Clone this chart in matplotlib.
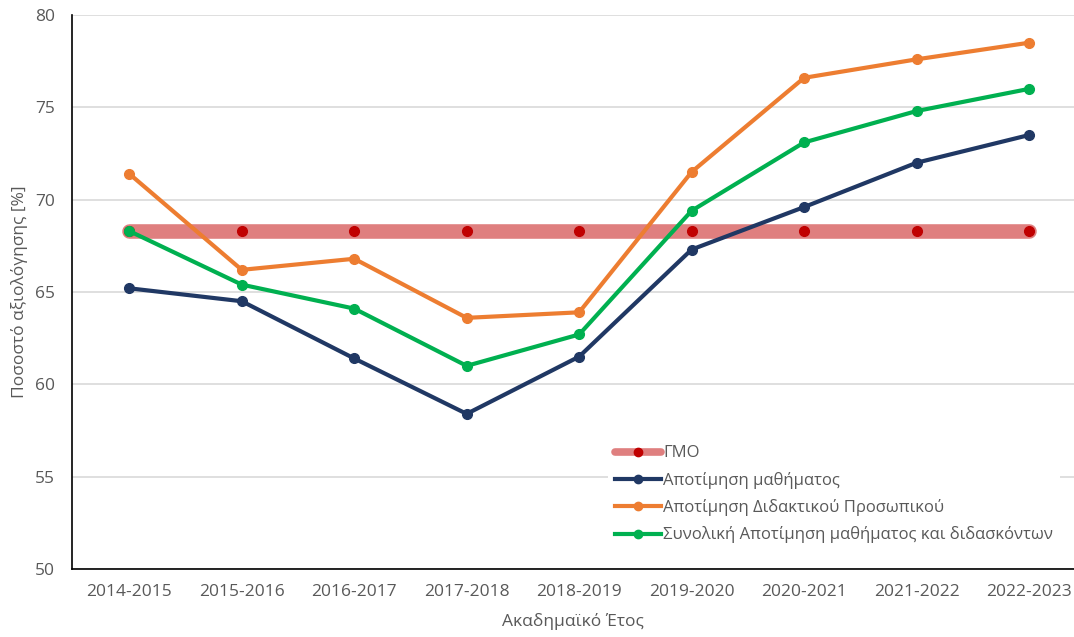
import matplotlib
matplotlib.use("Agg")
import matplotlib.pyplot as plt
from matplotlib.lines import Line2D

years = ["2014-2015", "2015-2016", "2016-2017", "2017-2018", "2018-2019",
         "2019-2020", "2020-2021", "2021-2022", "2022-2023"]
gmo = [68.3] * 9
course = [65.2, 64.5, 61.4, 58.4, 61.5, 67.3, 69.6, 72.0, 73.5]
staff = [71.4, 66.2, 66.8, 63.6, 63.9, 71.5, 76.6, 77.6, 78.5]
overall = [68.3, 65.4, 64.1, 61.0, 62.7, 69.4, 73.1, 74.8, 76.0]

plt.rcParams['font.family'] = ['Open Sans', 'DejaVu Sans']
text_color = "#595959"

fig = plt.figure(figsize=(10.74, 6.37), dpi=100)
ax = fig.add_axes([0.067, 0.1068, 0.933, 0.8696])

x = list(range(len(years)))

ax.plot(x, gmo, color="#df7f7f", lw=10.5, solid_capstyle="round", zorder=2)
ax.plot(x, gmo, ls="none", marker="o", color="#c00000", ms=7, zorder=3)
ax.plot(x, course, color="#203864", lw=3, marker="o", ms=7, zorder=4)
ax.plot(x, staff, color="#ed7d31", lw=3, marker="o", ms=7, zorder=4)
ax.plot(x, overall, color="#00b050", lw=3, marker="o", ms=7, zorder=5)

ax.set_ylim(50, 80)
ax.set_xlim(-0.51, 8.4)
ax.set_yticks([50, 55, 60, 65, 70, 75, 80])
ax.set_xticks(x)
ax.set_xticklabels(years)
ax.tick_params(length=0, labelsize=12.5, colors=text_color)
ax.tick_params(axis="x", pad=11)
ax.tick_params(axis="y", pad=12)
ax.grid(axis="y", color="#d9d9d9", lw=1.2)
ax.set_axisbelow(True)
for s in ["top", "right"]:
    ax.spines[s].set_visible(False)
for s in ["left", "bottom"]:
    ax.spines[s].set_color("#000000")
    ax.spines[s].set_linewidth(1.2)

ax.set_xlabel("Ακαδημαϊκό Έτος", fontsize=12.5, color=text_color, labelpad=9)
ax.set_ylabel("Ποσοστό αξιολόγησης [%]", fontsize=12.5, color=text_color, labelpad=5)

handles = [
    (Line2D([], [], color="#df7f7f", lw=5.5, solid_capstyle="round"),
     Line2D([], [], ls="none", marker="o", color="#c00000", ms=6)),
    Line2D([], [], color="#203864", lw=3, marker="o", ms=6),
    Line2D([], [], color="#ed7d31", lw=3, marker="o", ms=6),
    Line2D([], [], color="#00b050", lw=3, marker="o", ms=6),
]
labels = ["ΓΜΟ", "Αποτίμηση μαθήματος", "Αποτίμηση Διδακτικού Προσωπικού",
          "Συνολική Αποτίμηση μαθήματος και διδασκόντων"]
leg = ax.legend(handles, labels, loc="upper left", bbox_to_anchor=(0.535, 0.235),
                frameon=True, facecolor="white", edgecolor="none", framealpha=1,
                fontsize=12, handlelength=2.8, handletextpad=0.1, labelspacing=0.62,
                borderaxespad=0)
for t in leg.get_texts():
    t.set_color(text_color)

fig.savefig("out.png", dpi=100)
